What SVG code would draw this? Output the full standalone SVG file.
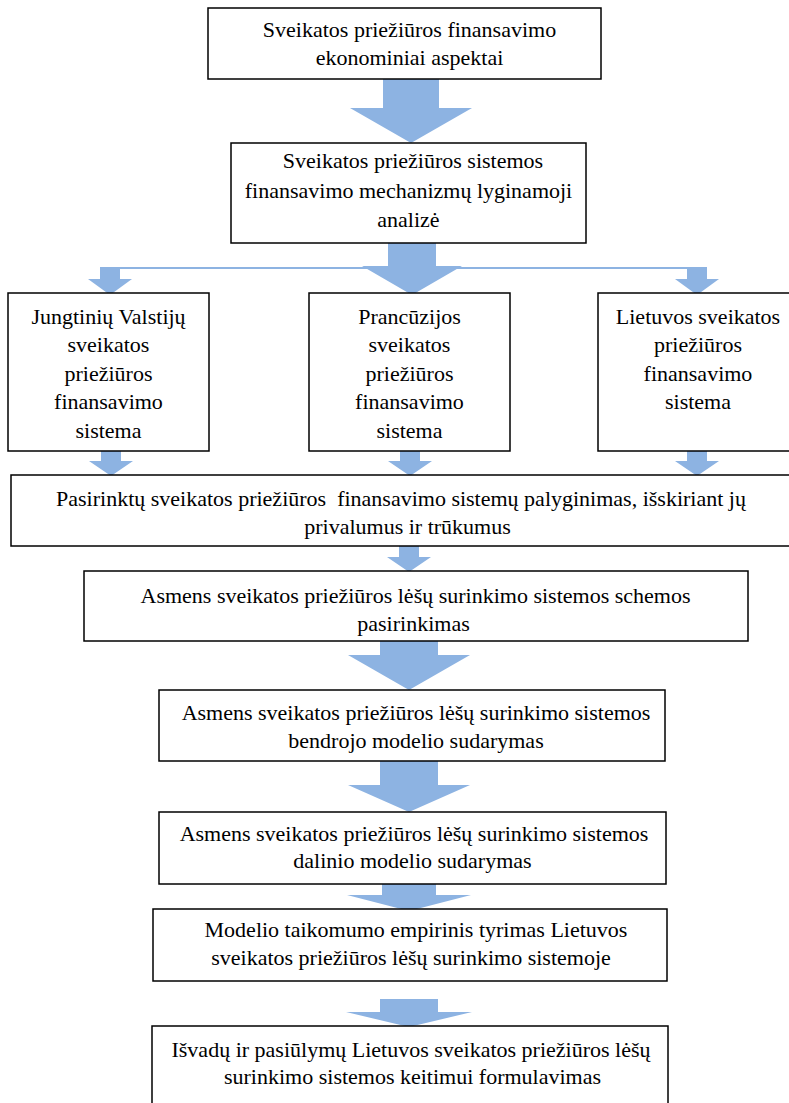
<svg xmlns="http://www.w3.org/2000/svg" width="789" height="1103" viewBox="0 0 789 1103">
  <style>
    .box { fill: #ffffff; stroke: #000000; stroke-width: 1.5; }
    .lbl { font-family: "Liberation Serif", "Times New Roman", serif; font-size: 22px; fill: #000000; text-anchor: middle; }
    .arrow { fill: #8db3e2; stroke: none; }
    .link { stroke: #8db3e2; stroke-width: 2; fill: none; }
  </style>
  <rect width="789" height="1103" fill="#ffffff"/>

  <!-- block arrows and the branch line -->
  <g id="connectors">
    <line class="link" x1="110" y1="268" x2="697" y2="268"/>
    <!-- box 1 to box 2 -->
    <polygon class="arrow" points="383,79 439,79 439,108 472,108 411,143 350,108 383,108"/>
    <!-- box 2 to the three systems -->
    <polygon class="arrow" points="388,243 436,243 436,266 462,266 412,295 362,266 388,266"/>
    <polygon class="arrow" points="100,267 120,267 120,279 132,279 110,295 88,279 100,279"/>
    <polygon class="arrow" points="687,267 707,267 707,279 719,279 697,295 675,279 687,279"/>
    <!-- systems to comparison -->
    <polygon class="arrow" points="101,451 121,451 121,461 133,461 111,476 89,461 101,461"/>
    <polygon class="arrow" points="400,451 420,451 420,461 432,461 410,476 388,461 400,461"/>
    <polygon class="arrow" points="687,451 707,451 707,461 719,461 697,476 675,461 687,461"/>
    <!-- comparison to scheme choice -->
    <polygon class="arrow" points="399,546 419,546 419,557 431,557 409,572 387,557 399,557"/>
    <!-- lower chain -->
    <polygon class="arrow" points="380,641 438,641 438,655 470,655 409,690 348,655 380,655"/>
    <polygon class="arrow" points="380,761 438,761 438,785 470,785 409,812 348,785 380,785"/>
    <polygon class="arrow" points="382,884 436,884 436,895 471,895 409,911 347,895 382,895"/>
    <polygon class="arrow" points="380,999 438,999 438,1012 472,1012 409,1027 346,1012 380,1012"/>
  </g>

  <g id="n1">
    <rect class="box" x="208" y="8" width="393" height="71"/>
    <text class="lbl" x="409.5" y="37">Sveikatos priežiūros finansavimo</text>
    <text class="lbl" x="409.5" y="65">ekonominiai aspektai</text>
  </g>

  <g id="n2">
    <rect class="box" x="231" y="143" width="355" height="100"/>
    <text class="lbl" x="413" y="168">Sveikatos priežiūros sistemos</text>
    <text class="lbl" x="408.5" y="198">finansavimo mechanizmų lyginamoji</text>
    <text class="lbl" x="408.5" y="227">analizė</text>
  </g>

  <g id="n3">
    <rect class="box" x="8" y="293" width="201" height="158"/>
    <text class="lbl" x="108.5" y="324">Jungtinių Valstijų</text>
    <text class="lbl" x="108.5" y="352">sveikatos</text>
    <text class="lbl" x="108.5" y="381">priežiūros</text>
    <text class="lbl" x="108.5" y="409">finansavimo</text>
    <text class="lbl" x="108.5" y="438">sistema</text>
  </g>

  <g id="n4">
    <rect class="box" x="309" y="293" width="201" height="158"/>
    <text class="lbl" x="409.5" y="324">Prancūzijos</text>
    <text class="lbl" x="409.5" y="352">sveikatos</text>
    <text class="lbl" x="409.5" y="381">priežiūros</text>
    <text class="lbl" x="409.5" y="409">finansavimo</text>
    <text class="lbl" x="409.5" y="438">sistema</text>
  </g>

  <g id="n5">
    <rect class="box" x="598" y="293" width="201" height="158"/>
    <text class="lbl" x="698" y="324">Lietuvos sveikatos</text>
    <text class="lbl" x="698" y="352">priežiūros</text>
    <text class="lbl" x="698" y="381">finansavimo</text>
    <text class="lbl" x="698" y="409">sistema</text>
  </g>

  <g id="n6">
    <rect class="box" x="11" y="475" width="790" height="71"/>
    <text class="lbl" x="401" y="506" xml:space="preserve">Pasirinktų sveikatos priežiūros  finansavimo sistemų palyginimas, išskiriant jų</text>
    <text class="lbl" x="407.5" y="534">privalumus ir trūkumus</text>
  </g>

  <g id="n7">
    <rect class="box" x="84" y="571" width="664" height="70"/>
    <text class="lbl" x="415.5" y="603">Asmens sveikatos priežiūros lėšų surinkimo sistemos schemos</text>
    <text class="lbl" x="413.5" y="631">pasirinkimas</text>
  </g>

  <g id="n8">
    <rect class="box" x="159" y="690" width="506" height="71"/>
    <text class="lbl" x="416" y="720">Asmens sveikatos priežiūros lėšų surinkimo sistemos</text>
    <text class="lbl" x="416" y="748">bendrojo modelio sudarymas</text>
  </g>

  <g id="n9">
    <rect class="box" x="159" y="812" width="507" height="72"/>
    <text class="lbl" x="414" y="841">Asmens sveikatos priežiūros lėšų surinkimo sistemos</text>
    <text class="lbl" x="412.5" y="868">dalinio modelio sudarymas</text>
  </g>

  <g id="n10">
    <rect class="box" x="153" y="909" width="514" height="72"/>
    <text class="lbl" x="416" y="937">Modelio taikomumo empirinis tyrimas Lietuvos</text>
    <text class="lbl" x="411" y="965">sveikatos priežiūros lėšų surinkimo sistemoje</text>
  </g>

  <g id="n11">
    <rect class="box" x="152" y="1026" width="516" height="90"/>
    <text class="lbl" x="411" y="1057">Išvadų ir pasiūlymų Lietuvos sveikatos priežiūros lėšų</text>
    <text class="lbl" x="412.5" y="1084">surinkimo sistemos keitimui formulavimas</text>
  </g>
</svg>
